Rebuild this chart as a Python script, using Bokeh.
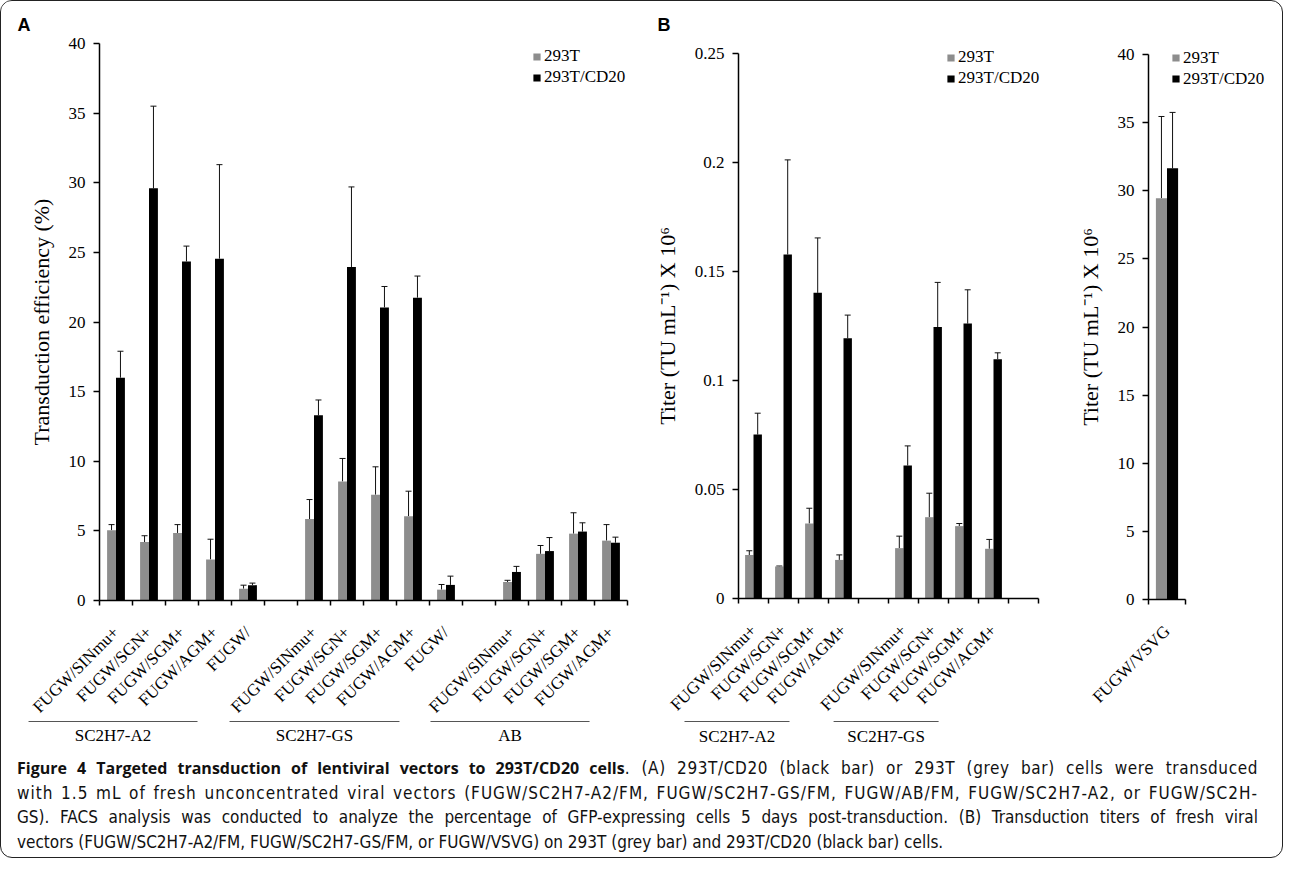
import math
from bokeh.plotting import figure
from bokeh.models import (ColumnDataSource, FixedTicker, LinearAxis, Range1d, Whisker,
                          TeeHead, Legend, LegendItem, Label, Div, CustomJSTickFormatter)
from bokeh.layouts import row, column
from bokeh.core.properties import value
from bokeh.embed import file_html
from bokeh.resources import INLINE

# ---------------- data ----------------
SERIES = ["293T", "293T/CD20"]

a_labels = ["FUGW/SINmu+", "FUGW/SGN+", "FUGW/SGM+", "FUGW/AGM+", "FUGW/", "",
            "FUGW/SINmu+", "FUGW/SGN+", "FUGW/SGM+", "FUGW/AGM+", "FUGW/", "",
            "FUGW/SINmu+", "FUGW/SGN+", "FUGW/SGM+", "FUGW/AGM+"]
a_gray = [5.05, 4.2, 4.85, 2.95, 0.85, None, 5.85, 8.55, 7.6, 6.05, 0.78, None, 1.33, 3.35, 4.8, 4.3]
a_gray_err = [0.4, 0.45, 0.6, 1.45, 0.25, None, 1.4, 1.65, 2.0, 1.8, 0.37, None, 0.12, 0.6, 1.5, 1.15]
a_black = [16.0, 29.6, 24.35, 24.55, 1.1, None, 13.3, 23.95, 21.05, 21.75, 1.12, None, 2.05, 3.55, 4.95, 4.15]
a_black_err = [1.9, 5.9, 1.1, 6.75, 0.15, None, 1.1, 5.75, 1.5, 1.55, 0.63, None, 0.4, 0.97, 0.63, 0.4]
a_groups = ["SC2H7-A2", "SC2H7-GS", "AB"]
a_yticks = [0, 5, 10, 15, 20, 25, 30, 35, 40]

b_labels = ["FUGW/SINmu+", "FUGW/SGN+", "FUGW/SGM+", "FUGW/AGM+", "",
            "FUGW/SINmu+", "FUGW/SGN+", "FUGW/SGM+", "FUGW/AGM+", ""]
b_gray = [0.0199, 0.0147, 0.0344, 0.0177, None, 0.0231, 0.0373, 0.0332, 0.0228, None]
b_gray_err = [0.002, 0.0002, 0.007, 0.0023, None, 0.0055, 0.011, 0.0012, 0.0043, None]
b_black = [0.0752, 0.1578, 0.1402, 0.1194, None, 0.061, 0.1245, 0.1261, 0.1098, None]
b_black_err = [0.0098, 0.0434, 0.0252, 0.0106, None, 0.009, 0.0205, 0.0155, 0.0029, None]
b_groups = ["SC2H7-A2", "SC2H7-GS"]
b_yticks = [0, 0.05, 0.1, 0.15, 0.2, 0.25]

c_labels = ["FUGW/VSVG"]
c_gray = [29.45]
c_gray_err = [6.0]
c_black = [31.65]
c_black_err = [4.1]
c_yticks = [0, 5, 10, 15, 20, 25, 30, 35, 40]

# ---------------- style / layout constants ----------------
GRAY = "#8d8d8d"
BLACK = "#000000"
SERIF = "Liberation Serif"
FIG_TOP = 10
FIG_BOTTOM = 760


def make_panel(width, fig_left, ax_x0, cat_px, labels, gray, gray_err, black, black_err,
               y0_px, ymax_px, ymax, yticks, ylabel, bar_w, letter, legend_sq, legend_bottom,
               groups=None, group_spans=None, group_line_px=730, group_text_px=744,
               yfmt=None):
    n = len(labels)
    k = (y0_px - ymax_px) / ymax
    y_start = -(FIG_BOTTOM - y0_px) / k
    y_end = (y0_px - FIG_TOP) / k
    x_start = (fig_left - ax_x0) / cat_px - 0.5
    x_end = (fig_left + width - ax_x0) / cat_px - 0.5

    p = figure(width=width, height=FIG_BOTTOM - FIG_TOP,
               x_range=Range1d(x_start, x_end), y_range=Range1d(y_start, y_end),
               output_backend="svg", toolbar_location=None, title=None,
               x_axis_location=None, y_axis_location=None,
               min_border_left=0, min_border_right=0, min_border_top=0, min_border_bottom=0)
    p.outline_line_color = None
    p.grid.grid_line_color = None

    idx = [i for i in range(n) if gray[i] is not None]
    off = bar_w / 2
    src = ColumnDataSource(dict(
        xg=[i - off for i in idx], xb=[i + off for i in idx],
        g=[gray[i] for i in idx], b=[black[i] for i in idx],
        gu=[gray[i] + gray_err[i] for i in idx], bu=[black[i] + black_err[i] for i in idx]))

    rg = p.vbar(x="xg", top="g", bottom=0, width=bar_w, source=src,
                fill_color=GRAY, line_color=None)
    rb = p.vbar(x="xb", top="b", bottom=0, width=bar_w, source=src,
                fill_color=BLACK, line_color=None)

    for xcol, lo, hi in (("xg", "g", "gu"), ("xb", "b", "bu")):
        w = Whisker(source=src, base=xcol, lower=lo, upper=hi, dimension="height",
                    line_color="#111111", line_width=1,
                    upper_head=TeeHead(size=6, line_color="#111111", line_width=1),
                    lower_head=None)
        p.add_layout(w)

    # y axis
    yax = LinearAxis(fixed_location=-0.5, bounds=(0, ymax),
                     ticker=FixedTicker(ticks=yticks, minor_ticks=[]),
                     axis_label=ylabel)
    if yfmt is not None:
        yax.formatter = yfmt
    yax.axis_line_color = "black"
    yax.axis_line_width = 1.5
    yax.major_tick_line_color = "black"
    yax.major_tick_line_width = 1.5
    yax.major_tick_out = 6
    yax.major_tick_in = 0
    yax.minor_tick_line_color = None
    yax.major_label_text_font = SERIF
    yax.major_label_text_font_size = "17px"
    yax.major_label_text_color = "black"
    yax.major_label_standoff = 8
    yax.axis_label_text_font = SERIF
    yax.axis_label_text_font_size = "22px"
    yax.axis_label_text_font_style = "normal"
    yax.axis_label_text_color = "black"
    yax.axis_label_standoff = 12
    p.add_layout(yax, "left")

    # x axis
    xax = LinearAxis(fixed_location=0, bounds=(-0.5, n - 0.5),
                     ticker=FixedTicker(ticks=list(range(n)),
                                        minor_ticks=[i - 0.5 for i in range(n + 1)]),
                     major_label_overrides={i: lab for i, lab in enumerate(labels)})
    xax.axis_line_color = "black"
    xax.axis_line_width = 1.5
    xax.major_tick_line_color = None
    xax.major_tick_out = 0
    xax.major_tick_in = 0
    xax.minor_tick_line_color = "black"
    xax.minor_tick_line_width = 1.5
    xax.minor_tick_out = 5
    xax.minor_tick_in = 0
    xax.major_label_orientation = math.pi / 4
    xax.major_label_text_font = SERIF
    xax.major_label_text_font_size = "17px"
    xax.major_label_text_color = "black"
    xax.major_label_standoff = 24
    p.add_layout(xax, "below")

    # group brackets
    if groups:
        gl = -(group_line_px - y0_px) / k
        gt = -(group_text_px - y0_px) / k
        p.segment(x0=[s[0] for s in group_spans], x1=[s[1] for s in group_spans],
                  y0=[gl] * len(groups), y1=[gl] * len(groups),
                  line_color="#555555", line_width=1.2)
        p.text(x=[(s[0] + s[1]) / 2 for s in group_spans], y=[gt] * len(groups), text=groups,
               text_font=value(SERIF), text_font_size="17px", text_color="black",
               text_align="center", text_baseline="middle")

    # legend
    legend = Legend(items=[LegendItem(label=SERIES[0], renderers=[rg]),
                           LegendItem(label=SERIES[1], renderers=[rb])],
                    location=(legend_sq - fig_left - 0.9, FIG_BOTTOM - legend_bottom),
                    glyph_width=9, glyph_height=9, label_height=21, label_standoff=3,
                    spacing=0, padding=0, margin=0,
                    label_text_font=SERIF, label_text_font_size="17px",
                    label_text_color="black",
                    border_line_color=None, background_fill_alpha=0)
    p.add_layout(legend)

    if letter:
        p.add_layout(Label(x=letter[0] - fig_left, y=FIG_BOTTOM - letter[1],
                           x_units="screen", y_units="screen", text=letter[2],
                           text_font="Liberation Sans", text_font_style="bold",
                           text_font_size="18px", text_color="black",
                           text_baseline="middle", text_align="left"))
    return p


TITER = "Titer (TU mL\u207b\u00b9) X 10\u2076"

pA = make_panel(645, 10, 108, 33, a_labels, a_gray, a_gray_err, a_black, a_black_err,
                609, 52, 40, a_yticks, "Transduction efficiency (%)", 0.27,
                (26, 33, "A"), 542, 96.5, groups=a_groups,
                group_spans=[(-2.65, 2.47), (3.44, 8.59), (9.53, 14.35)],
                group_line_px=730, group_text_px=744)

pB = make_panel(420, 655, 747, 30, b_labels, b_gray, b_gray_err, b_black, b_black_err,
                607, 62, 0.25, b_yticks, TITER, 0.28,
                (666, 33, "B"), 956, 97.5, groups=b_groups,
                group_spans=[(-2.3, 1.2), (2.67, 6.17)],
                group_line_px=730, group_text_px=745,
                yfmt=CustomJSTickFormatter(code="return String(Math.round(tick*1000)/1000)"))

pC = make_panel(206, 1075, 1157, 37, c_labels, c_gray, c_gray_err, c_black, c_black_err,
                608, 63, 40, c_yticks, TITER, 0.3,
                None, 1181, 98)

cap_font = "font-family:'Liberation Sans Narrow','DejaVu Sans Condensed','Open Sans',sans-serif;font-stretch:condensed;"
bold_font = "font-family:'Open Sans','Liberation Sans',sans-serif;font-stretch:normal;font-weight:bold;font-size:16px;letter-spacing:0;"
just = "text-align:justify;text-align-last:justify;white-space:nowrap;"
lines = [
    f'<div style="{just}letter-spacing:0.6px;"><span style="{bold_font}">Figure 4 Targeted transduction of lentiviral vectors to 293T/CD20 cells</span>. (A) 293T/CD20 (black bar) or 293T (grey bar) cells were transduced</div>',
    f'<div style="{just}letter-spacing:1px;">with 1.5 mL of fresh unconcentrated viral vectors (FUGW/SC2H7-A2/FM, FUGW/SC2H7-GS/FM, FUGW/AB/FM, FUGW/SC2H7-A2, or FUGW/SC2H-</div>',
    f'<div style="{just}">GS). FACS analysis was conducted to analyze the percentage of GFP-expressing cells 5 days post-transduction. (B) Transduction titers of fresh viral</div>',
    '<div style="text-align:left;white-space:nowrap;">vectors (FUGW/SC2H7-A2/FM, FUGW/SC2H7-GS/FM, or FUGW/VSVG) on 293T (grey bar) and 293T/CD20 (black bar) cells.</div>',
]
cap_html = (f'<div style="{cap_font}font-size:17px;line-height:24.5px;color:#111;'
            f'width:1252px;padding-left:11px;">' + "".join(lines) + '</div>')
caption = Div(text=cap_html, width=1271, height=96)

layout = column(row(pA, pB, pC), caption,
                styles={"border": "1.5px solid #222", "border-radius": "12px",
                        "overflow": "hidden"})

open("out.html", "w").write(file_html(layout, INLINE))
